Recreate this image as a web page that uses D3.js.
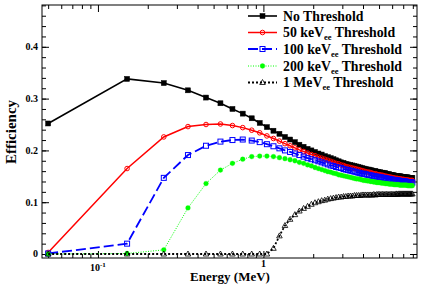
<!DOCTYPE html>
<html>
<head>
<meta charset="utf-8">
<script src="https://cdn.jsdelivr.net/npm/d3@7"></script>
<style>
body { margin: 0; background: #fff; }
</style>
</head>
<body>
<div id="chart"></div>
<script>
// energy bins (MeV)
const energies = [
  0.05, 0.15, 0.25, 0.35, 0.45, 0.55, 0.65, 0.75, 0.85, 0.95,
  1.05, 1.15, 1.25, 1.35, 1.45, 1.55, 1.65, 1.75, 1.85, 1.95,
  2.05, 2.15, 2.25, 2.35, 2.45, 2.55, 2.65, 2.75, 2.85, 2.95,
  3.05, 3.15, 3.25, 3.35, 3.45, 3.55, 3.65, 3.75, 3.85, 3.95,
  4.05, 4.15, 4.25, 4.35, 4.45, 4.55, 4.65, 4.75, 4.85, 4.95,
  5.05, 5.15, 5.25, 5.35, 5.45, 5.55, 5.65, 5.75, 5.85, 5.95,
  6.05, 6.15, 6.25, 6.35, 6.45, 6.55, 6.65, 6.75, 6.85, 6.95,
  7.05, 7.15, 7.25, 7.35, 7.45, 7.55, 7.65, 7.75, 7.85, 7.95
];

const noThreshold = [
  0.252, 0.338, 0.330, 0.316, 0.302, 0.291, 0.280, 0.271, 0.262, 0.253,
  0.245, 0.238, 0.232, 0.226, 0.221, 0.216, 0.211, 0.207, 0.203, 0.200,
  0.197, 0.194, 0.192, 0.189, 0.187, 0.185, 0.183, 0.181, 0.179, 0.177,
  0.176, 0.174, 0.173, 0.172, 0.171, 0.170, 0.169, 0.168, 0.167, 0.166,
  0.165, 0.164, 0.163, 0.163, 0.162, 0.161, 0.160, 0.160, 0.159, 0.158,
  0.158, 0.157, 0.157, 0.156, 0.156, 0.155, 0.154, 0.154, 0.153, 0.153,
  0.152, 0.152, 0.151, 0.151, 0.151, 0.150, 0.150, 0.150, 0.149, 0.149,
  0.149, 0.148, 0.148, 0.148, 0.148, 0.147, 0.147, 0.147, 0.147, 0.147
];

const thr50keV = [
  0.003, 0.165, 0.226, 0.246, 0.250, 0.251, 0.248, 0.244, 0.239, 0.234,
  0.228, 0.223, 0.218, 0.213, 0.209, 0.205, 0.201, 0.198, 0.195, 0.192,
  0.190, 0.187, 0.185, 0.183, 0.181, 0.179, 0.177, 0.175, 0.174, 0.172,
  0.171, 0.169, 0.168, 0.167, 0.166, 0.165, 0.164, 0.163, 0.162, 0.161,
  0.160, 0.159, 0.158, 0.158, 0.157, 0.156, 0.155, 0.155, 0.154, 0.153,
  0.153, 0.152, 0.152, 0.151, 0.150, 0.150, 0.149, 0.149, 0.148, 0.148,
  0.147, 0.147, 0.146, 0.146, 0.146, 0.145, 0.145, 0.145, 0.144, 0.144,
  0.144, 0.143, 0.143, 0.143, 0.143, 0.142, 0.142, 0.142, 0.142, 0.142
];

const thr100keV = [
  0.001, 0.020, 0.147, 0.191, 0.209, 0.217, 0.220, 0.221, 0.219, 0.216,
  0.212, 0.208, 0.204, 0.200, 0.197, 0.194, 0.191, 0.188, 0.185, 0.183,
  0.181, 0.179, 0.177, 0.175, 0.173, 0.171, 0.170, 0.168, 0.167, 0.166,
  0.164, 0.163, 0.162, 0.161, 0.160, 0.159, 0.158, 0.157, 0.156, 0.155,
  0.155, 0.154, 0.153, 0.152, 0.152, 0.151, 0.150, 0.150, 0.149, 0.149,
  0.148, 0.148, 0.147, 0.147, 0.146, 0.146, 0.145, 0.145, 0.144, 0.144,
  0.143, 0.143, 0.143, 0.142, 0.142, 0.142, 0.141, 0.141, 0.141, 0.140,
  0.140, 0.140, 0.140, 0.139, 0.139, 0.139, 0.139, 0.139, 0.138, 0.138
];

const thr200keV = [
  0.000, 0.001, 0.008, 0.089, 0.136, 0.162, 0.175, 0.183, 0.188, 0.189,
  0.189, 0.188, 0.186, 0.184, 0.182, 0.180, 0.177, 0.175, 0.172, 0.170,
  0.167, 0.165, 0.163, 0.161, 0.159, 0.158, 0.156, 0.155, 0.153, 0.152,
  0.151, 0.150, 0.149, 0.148, 0.147, 0.146, 0.145, 0.145, 0.144, 0.143,
  0.142, 0.142, 0.141, 0.141, 0.140, 0.140, 0.139, 0.139, 0.138, 0.138,
  0.138, 0.137, 0.137, 0.137, 0.136, 0.136, 0.136, 0.135, 0.135, 0.135,
  0.135, 0.134, 0.134, 0.134, 0.134, 0.134, 0.133, 0.133, 0.133, 0.133,
  0.133, 0.133, 0.133, 0.133, 0.132, 0.132, 0.132, 0.132, 0.132, 0.132
];

const thr1MeV = [
  0.000, 0.000, 0.000, 0.000, 0.000, 0.000, 0.000, 0.000, 0.000, 0.000,
  0.000, 0.011, 0.035, 0.055, 0.067, 0.076, 0.083, 0.088, 0.092, 0.096,
  0.099, 0.101, 0.103, 0.104, 0.106, 0.107, 0.108, 0.109, 0.110, 0.110,
  0.111, 0.111, 0.112, 0.112, 0.112, 0.113, 0.113, 0.113, 0.113, 0.114,
  0.114, 0.114, 0.114, 0.114, 0.114, 0.114, 0.115, 0.114, 0.115, 0.115,
  0.115, 0.115, 0.115, 0.115, 0.115, 0.115, 0.115, 0.115, 0.115, 0.115,
  0.115, 0.115, 0.115, 0.116, 0.115, 0.116, 0.116, 0.116, 0.116, 0.116,
  0.116, 0.116, 0.116, 0.116, 0.116, 0.116, 0.116, 0.116, 0.116, 0.116
];

const yMajor = [0, 0.1, 0.2, 0.3, 0.4];
const yMinor = d3.range(0, 0.481, 0.02);
const xMajor = [0.1, 1];
const xMinor = [0.05, 0.06, 0.07, 0.08, 0.09, 0.2, 0.3, 0.4, 0.5, 0.6, 0.7, 0.8, 0.9, 2, 3, 4, 5, 6, 7, 8];

const series = [
  {name: "No Threshold", sub: null, values: noThreshold, color: "#000", dash: null, lw: 1.6, marker: "square", fill: true},
  {name: "50 keV", sub: "ee", values: thr50keV, color: "#ff0000", dash: null, lw: 1.5, marker: "circle", fill: false},
  {name: "100 keV", sub: "ee", values: thr100keV, color: "#0000ff", dash: "10,4", lw: 1.8, marker: "square", fill: false},
  {name: "200 keV", sub: "ee", values: thr200keV, color: "#00ff00", dash: "1,1.5", lw: 1, marker: "circle", fill: true},
  {name: "1 MeV", sub: "ee", values: thr1MeV, color: "#000", dash: "2,2", lw: 1.8, marker: "triangle", fill: false}
];

const serif = "Liberation Serif"

let width = 425
let height = 287
let margin = {top: 5, right: 8, bottom: 29, left: 42}

var svg = d3.select("#chart")
    .append("svg")
    .attr("width", width)
    .attr("height", height)

// every label is bold serif, like the ROOT original
function addText(parent){
    return parent.append("text")
        .attr("font-family", serif)
        .attr("font-weight", "bold")
}

let xScale = d3.scaleLog()
    .domain([0.0459, 8.48])
    .range([margin.left, width - margin.right])

let yScale = d3.scaleLinear()
    .domain([-0.0077, 0.4807])
    .range([height - margin.bottom, margin.top])

let x0 = margin.left, x1 = width - margin.right
let y0 = height - margin.bottom, y1 = margin.top

// ticks on all four sides, pointing in
function tickAxis(axis, vals, size, transform){
    let g = svg.append("g")
        .attr("transform", transform)
        .call(axis.tickValues(vals).tickSize(size).tickFormat(""))
    g.select(".domain").remove()
    g.selectAll("line").attr("stroke", "#000").attr("stroke-width", 1)
}
tickAxis(d3.axisBottom(xScale), xMajor, -7, `translate(0,${y0})`)
tickAxis(d3.axisBottom(xScale), xMinor, -4, `translate(0,${y0})`)
tickAxis(d3.axisTop(xScale), xMajor, -7, `translate(0,${y1})`)
tickAxis(d3.axisTop(xScale), xMinor, -4, `translate(0,${y1})`)
tickAxis(d3.axisLeft(yScale), yMajor, -7, `translate(${x0},0)`)
tickAxis(d3.axisLeft(yScale), yMinor, -4, `translate(${x0},0)`)
tickAxis(d3.axisRight(yScale), yMajor, -7, `translate(${x1},0)`)
tickAxis(d3.axisRight(yScale), yMinor, -4, `translate(${x1},0)`)

svg.append("rect")
    .attr("x", x0).attr("y", y1)
    .attr("width", x1 - x0).attr("height", y0 - y1)
    .attr("fill", "none").attr("stroke", "#000").attr("stroke-width", 1)

// tick labels
yMajor.forEach(function(d){
    addText(svg)
        .attr("x", x0 - 4)
        .attr("y", yScale(d))
        .attr("dy", "0.33em")
        .attr("text-anchor", "end")
        .attr("font-size", 10)
        .text(d === 0 ? "0" : d3.format(".1f")(d))
})

let xl = addText(svg)
    .attr("x", xScale(0.1))
    .attr("y", 271)
    .attr("text-anchor", "middle")
    .attr("font-size", 10)
xl.append("tspan").text("10")
xl.append("tspan").attr("dy", -4).attr("font-size", 7).text("-1")

addText(svg)
    .attr("x", xScale(1))
    .attr("y", 266.5)
    .attr("text-anchor", "middle")
    .attr("font-size", 10)
    .text("1")

// axis titles
addText(svg)
    .attr("x", 230)
    .attr("y", 281)
    .attr("text-anchor", "middle")
    .attr("font-size", 13)
    .text("Energy (MeV)")

addText(svg)
    .attr("transform", "translate(16,132) rotate(-90)")
    .attr("text-anchor", "middle")
    .attr("font-size", 15)
    .text("Efficiency")

// markers
function drawMarker(g, s, cx, cy){
    if(s.marker === "square"){
        g.append("rect")
            .attr("x", cx - 2.5).attr("y", cy - 2.5)
            .attr("width", 5).attr("height", 5)
            .attr("fill", s.fill ? s.color : "none")
            .attr("stroke", s.color).attr("stroke-width", s.fill ? 0.5 : 1)
    } else if(s.marker === "circle"){
        g.append("circle")
            .attr("cx", cx).attr("cy", cy)
            .attr("r", s.fill ? 2.4 : 2.3)
            .attr("fill", s.fill ? s.color : "none")
            .attr("stroke", s.color).attr("stroke-width", s.fill ? 0.3 : 1)
    } else {
        g.append("path")
            .attr("d", `M${cx},${cy - 3}L${cx + 2.8},${cy + 2}L${cx - 2.8},${cy + 2}Z`)
            .attr("fill", "none")
            .attr("stroke", s.color).attr("stroke-width", 0.8)
    }
}

let line = d3.line()
    .x(d => xScale(d[0]))
    .y(d => yScale(d[1]))

series.forEach(function(s){
    let pts = energies.map((e, i) => [e, s.values[i]])
    let g = svg.append("g")
    g.append("path")
        .datum(pts)
        .attr("d", line)
        .attr("fill", "none")
        .attr("stroke", s.color)
        .attr("stroke-width", s.lw)
        .attr("stroke-dasharray", s.dash)
    pts.forEach(p => drawMarker(g, s, xScale(p[0]), yScale(p[1])))
})

// legend
let legY = [16, 32.5, 49, 66, 82.5]
series.forEach(function(s, i){
    let g = svg.append("g")
    g.append("line")
        .attr("x1", 248).attr("x2", 277)
        .attr("y1", legY[i]).attr("y2", legY[i])
        .attr("stroke", s.color)
        .attr("stroke-width", s.lw)
        .attr("stroke-dasharray", s.dash)
    drawMarker(g, s, 262.5, legY[i])
    let t = addText(g)
        .attr("x", 283)
        .attr("y", legY[i])
        .attr("dy", "0.35em")
        .attr("font-size", 13.8)
    t.append("tspan").text(s.name)
    if(s.sub){
        t.append("tspan").attr("dy", 3).attr("font-size", 8.5).text(s.sub)
        t.append("tspan").attr("dy", -3).text(" Threshold")
    }
})
</script>
</body>
</html>
